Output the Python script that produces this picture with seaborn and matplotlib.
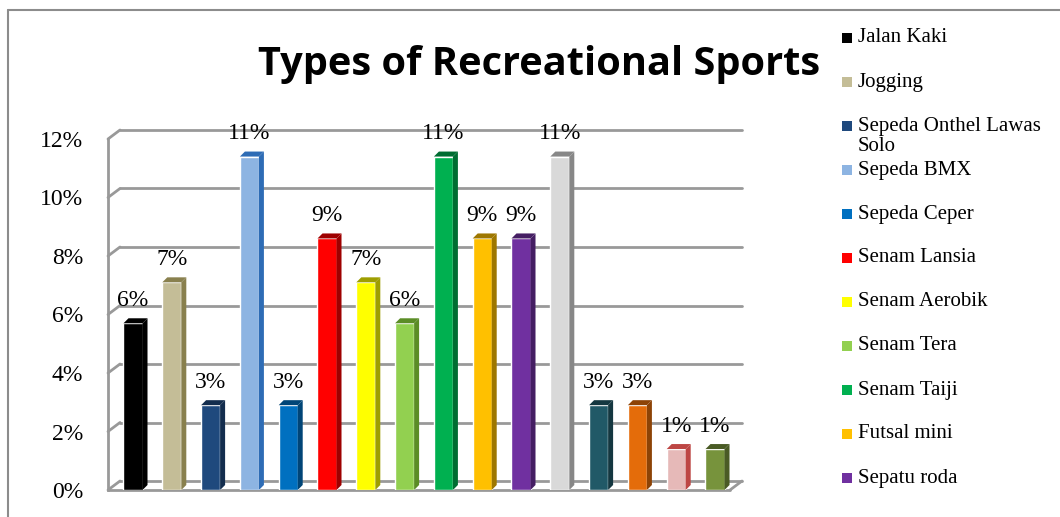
import matplotlib
matplotlib.use("Agg")
import matplotlib.pyplot as plt
import matplotlib.transforms as mtransforms
from matplotlib.patches import Polygon, Rectangle
from matplotlib.lines import Line2D
import seaborn as sns
import pandas as pd
import colorsys

categories = ["Jalan Kaki", "Jogging", "Sepeda Onthel Lawas\nSolo", "Sepeda BMX",
              "Sepeda Ceper", "Senam Lansia", "Senam Aerobik", "Senam Tera",
              "Senam Taiji", "Futsal mini", "Sepatu roda",
              "Lainnya 1", "Lainnya 2", "Lainnya 3", "Lainnya 4", "Lainnya 5"]
values = [5.7, 7.1, 2.9, 11.4, 2.9, 8.6, 7.1, 5.7, 11.4, 8.6, 8.6, 11.4, 2.9, 2.9, 1.4, 1.4]
colors = ["#000000", "#C4BD97", "#1F497D", "#8DB4E2", "#0070C0", "#FF0000",
          "#FFFF00", "#92D050", "#00B050", "#FFC000", "#7030A0",
          "#D9D9D9", "#215967", "#E46C0A", "#E6B9B8", "#77933C"]
legend_count = 11
yticks = [0, 2, 4, 6, 8, 10, 12]
ytick_labels = ["0%", "2%", "4%", "6%", "8%", "10%", "12%"]
title = "Types of Recreational Sports"

W, H = 1060, 517
sns.set_style("white")
plt.rcParams["font.family"] = ["Liberation Serif", "DejaVu Serif"]
plt.rcParams["text.color"] = "black"
plt.rcParams["ytick.labelcolor"] = "black"
fig = plt.figure(figsize=(W / 100, H / 100), dpi=100)

# axes: front plane from x=108..730 px, y=490..139 px (from top)
ax = fig.add_axes([108 / W, (H - 490) / H, (730 - 108) / W, (490 - 139) / H])
ax.set_facecolor("none")

df = pd.DataFrame({"cat": categories, "val": values})
sns.barplot(data=df, x="cat", y="val", hue="cat", palette=colors, legend=False,
            width=0.49, ax=ax, saturation=1, zorder=3)
bars = [p for p in ax.patches if p.get_height() > 0]
bars.sort(key=lambda p: p.get_x())

left_x = -25 / 38.8
ax.set_xlim(left_x, (730 - 133) / 38.8)
ax.set_ylim(0, 12)

# 3D-like side faces
px_x = (730 - 108) / (ax.get_xlim()[1] - ax.get_xlim()[0])
px_y = (490 - 139) / 12.0
dx = 5 / px_x
dy = 5 / px_y
for p in bars:
    x0, w, h = p.get_x(), p.get_width(), p.get_height()
    r, g, b = p.get_facecolor()[:3]
    hh, ll, ss = colorsys.rgb_to_hls(r, g, b)
    dark = colorsys.hls_to_rgb(hh, ll * 0.62, ss)
    side = Polygon([(x0 + w, 0), (x0 + w, h), (x0 + w + dx, h + dy), (x0 + w + dx, dy)],
                   closed=True, facecolor=dark, edgecolor="none", zorder=3)
    top = Polygon([(x0, h), (x0 + w, h), (x0 + w + dx, h + dy), (x0 + dx, h + dy)],
                  closed=True, facecolor=dark, edgecolor="none", zorder=3)
    ax.add_patch(side)
    ax.add_patch(top)
    ax.annotate(f"{round(h)}%", (x0 + w / 2, h), xytext=(0, 9), textcoords="offset points",
                ha="center", va="bottom", fontsize=17, zorder=4, color="black")

# back wall gridlines
grid_col = "#999999"
back = mtransforms.offset_copy(ax.transData, fig=fig, x=12, y=9, units="dots")
xl, xr = ax.get_xlim()
for t in yticks:
    ax.plot([xl, xr], [t, t], color=grid_col, lw=2, transform=back, zorder=1, clip_on=False)
    ax.plot([xl, xl + 12 / px_x], [t, t + 9 / px_y], color=grid_col, lw=2, zorder=1, clip_on=False)
# floor front edge and right diagonal
ax.plot([xl, xr], [0, 0], color=grid_col, lw=2, zorder=2, clip_on=False)
ax.plot([xr, xr + 12 / px_x], [0, 9 / px_y], color=grid_col, lw=2, zorder=2, clip_on=False)

for s in ["top", "right", "bottom"]:
    ax.spines[s].set_visible(False)
ax.spines["left"].set_color(grid_col)
ax.spines["left"].set_linewidth(2)
ax.set_yticks(yticks)
ax.set_yticklabels(ytick_labels)
ax.tick_params(axis="y", length=6, width=1.5, color=grid_col, pad=12, labelsize=17,
               labelcolor="black")
ax.set_xticks([])
ax.set_xlabel("")
ax.set_ylabel("")

fig.text(539 / W, 1 - 64 / H, title, ha="center", va="center",
         fontsize=28.6, fontweight="bold", family="Open Sans", color="black")

# legend (only the first entries are visible in the original)
for i in range(legend_count):
    yc = 38 + 44 * i
    fig.add_artist(Rectangle((842 / W, 1 - (yc + 5) / H), 10 / W, 10 / H,
                             transform=fig.transFigure, facecolor=colors[i], edgecolor="none"))
    multi = "\n" in categories[i]
    fig.text(858 / W, 1 - (yc - 9 if multi else yc) / H, categories[i], ha="left",
             va="top" if multi else "center", fontsize=15, linespacing=1.1, color="black")

# outer frame
fig.add_artist(Line2D([8 / W, 8 / W], [0, 1 - 10 / H], transform=fig.transFigure, color="#8C8C8C", lw=1.5))
fig.add_artist(Line2D([8 / W, 1], [1 - 10 / H, 1 - 10 / H], transform=fig.transFigure, color="#8C8C8C", lw=1.5))

fig.savefig("out.png", dpi=100)
